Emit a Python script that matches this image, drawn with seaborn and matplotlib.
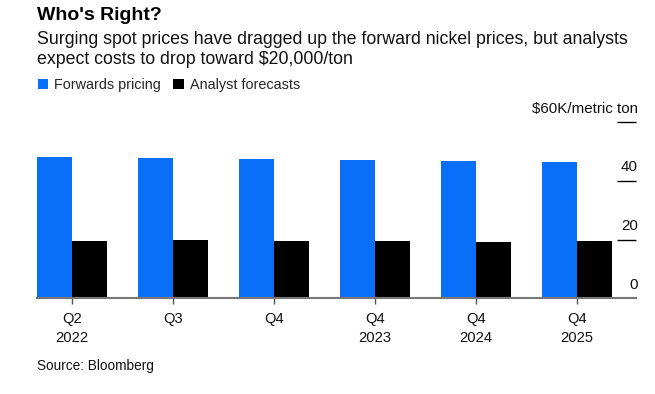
import matplotlib
matplotlib.use("Agg")
import matplotlib.pyplot as plt
import matplotlib.transforms as mtransforms
import seaborn as sns
import pandas as pd

# data (thousand USD per metric ton)
periods = ["Q2 2022", "Q3 2022", "Q4 2022", "Q4 2023", "Q4 2024", "Q4 2025"]
period_labels = ["Q2\n2022", "Q3", "Q4", "Q4\n2023", "Q4\n2024", "Q4\n2025"]
forwards = [48.3, 48.0, 47.5, 47.2, 46.8, 46.4]
analysts = [19.6, 19.9, 19.6, 19.6, 19.1, 19.6]
series = ["Forwards pricing", "Analyst forecasts"]
y_ticks = [0, 20, 40, 60]
y_tick_labels = ["0", "20", "40", "\\$60K/metric ton"]

BLUE = "#0a6ff8"
BLACK = "#000000"

df = pd.DataFrame({
    "period": periods * 2,
    "series": [series[0]] * len(periods) + [series[1]] * len(periods),
    "value": forwards + analysts,
})

sns.set_theme(style="white")
plt.rcParams["font.family"] = ["Liberation Sans", "DejaVu Sans"]

W, H = 655, 394
fig = plt.figure(figsize=(W / 100, H / 100), dpi=100)
ax = fig.add_axes([36.7 / W, (H - 298.3) / H, (636 - 36.7) / W, (298.3 - 122.3) / H])

sns.barplot(data=df, x="period", y="value", hue="series", order=periods,
            hue_order=series, palette=[BLUE, BLACK], width=0.69,
            saturation=1, ax=ax, linewidth=0)

ax.set_xlim(-0.347, 5.587)
ax.set_ylim(0, 60)
ax.set_xlabel("")
ax.set_ylabel("")

for side in ["top", "right", "left"]:
    ax.spines[side].set_visible(False)
ax.spines["bottom"].set_color("#777777")
ax.spines["bottom"].set_linewidth(1.5)
ax.spines["bottom"].set_zorder(5)

ax.set_xticks(range(len(periods)))
ax.set_xticklabels(period_labels, fontsize=10.6, color="#111111")
ax.tick_params(axis="x", bottom=True, length=4, width=1, color="#555555", pad=6)
for lbl in ax.get_xticklabels():
    lbl.set_linespacing(1.4)
ax.set_yticks([])

# right-hand value scale: short rules with labels sitting above them
ytrans = ax.get_yaxis_transform()
lab_trans = mtransforms.offset_copy(ytrans, fig=fig, x=2, y=9.5, units="dots")
for v, t in zip(y_ticks, y_tick_labels):
    if v > 0:
        ax.plot([0.969, 1.0], [v, v], transform=ytrans, color=BLACK, lw=1,
                clip_on=False, solid_capstyle="butt")
    ax.text(1.0, v, t, transform=lab_trans, ha="right", va="baseline",
            fontsize=10.9, color="#111111")

# legend
sns.move_legend(ax, "upper left", bbox_to_anchor=(37.5 / W, 1 - 78 / H),
                bbox_transform=fig.transFigure, ncol=2, frameon=False, title=None,
                handlelength=0.72, handleheight=0.72, handletextpad=0.4,
                columnspacing=0.9, borderaxespad=0, borderpad=0, fontsize=10.4)

# heading
fig.text(37.3 / W, 1 - 20 / H, "Who's Right?", fontsize=14, fontweight="bold",
         color="#000000", va="baseline", ha="left")
fig.text(37.3 / W, 1 - 44.3 / H,
         "Surging spot prices have dragged up the forward nickel prices, but analysts",
         fontsize=12.8, color="#111111", va="baseline", ha="left")
fig.text(37.3 / W, 1 - 64.3 / H, "expect costs to drop toward \\$20,000/ton",
         fontsize=12.8, color="#111111", va="baseline", ha="left")
fig.text(36.7 / W, 1 - 370 / H, "Source: Bloomberg", fontsize=9.8,
         color="#111111", va="baseline", ha="left")

fig.savefig("out.png", dpi=100, facecolor="white")
